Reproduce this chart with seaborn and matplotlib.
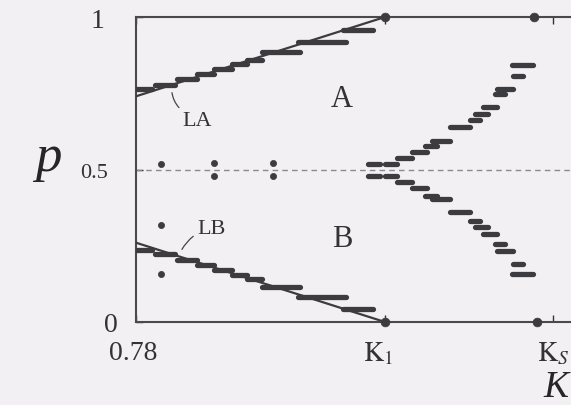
import numpy as np
import pandas as pd
import matplotlib
matplotlib.use("Agg")
import matplotlib.pyplot as plt
import matplotlib.transforms as mtransforms
import seaborn as sns

# Staircase along LA (upper): plateau start K, end K, level p
la_k0 = [0.7800, 0.7815, 0.7833, 0.7849, 0.7863, 0.7877, 0.7889, 0.7901, 0.7930, 0.7966]
la_k1 = [0.7813, 0.7831, 0.7849, 0.7863, 0.7877, 0.7889, 0.7901, 0.7932, 0.7969, 0.7990]
la_p = [0.764, 0.777, 0.797, 0.813, 0.830, 0.846, 0.859, 0.885, 0.918, 0.957]

# Staircase along LB (lower)
lb_k0 = [0.7800, 0.7815, 0.7833, 0.7849, 0.7863, 0.7877, 0.7889, 0.7901, 0.7930, 0.7966]
lb_k1 = [0.7813, 0.7831, 0.7849, 0.7863, 0.7877, 0.7889, 0.7901, 0.7932, 0.7969, 0.7990]
lb_p = [0.236, 0.223, 0.203, 0.187, 0.170, 0.154, 0.141, 0.115, 0.082, 0.043]

# Two branches beyond K1
br_k0 = [0.7986, 0.8000, 0.8010, 0.8022, 0.8032, 0.8038, 0.8052, 0.8068, 0.8072,
         0.8079, 0.8088, 0.8090, 0.8103, 0.8102]
br_k1 = [0.7996, 0.8010, 0.8022, 0.8034, 0.8042, 0.8052, 0.8068, 0.8076, 0.8083,
         0.8090, 0.8096, 0.8103, 0.8111, 0.8119]
up_p = [0.518, 0.518, 0.538, 0.557, 0.577, 0.593, 0.639, 0.662, 0.682,
        0.705, 0.748, 0.764, 0.807, 0.843]
lo_p = [0.479, 0.479, 0.459, 0.439, 0.413, 0.403, 0.361, 0.331, 0.311,
        0.289, 0.256, 0.233, 0.190, 0.157]

# Isolated points
dot_k = [0.7820, 0.7820, 0.7820, 0.7863, 0.7863, 0.7910, 0.7910]
dot_p = [0.518, 0.318, 0.157, 0.521, 0.479, 0.521, 0.479]

# Points sitting on the p = 0 and p = 1 edges
edge_k = [0.8000, 0.8000, 0.8120, 0.8122]
edge_p = [1.0, 0.0, 1.0, 0.0]

# Boundary lines LA and LB
line_k = [0.78, 0.80]
la_line_p = [0.74, 1.0]
lb_line_p = [0.26, 0.0]

k_ticks = [0.78, 0.80, 0.8135]
k_labels = ["0.78", r"$\mathrm{K}_1$", r"$\mathrm{K}_S$"]
p_ticks = [0.0, 0.5, 1.0]
p_labels = ["0", "0.5", "1"]

BG = "#f2f0f3"
INK = "#3c3c40"

sns.set_theme(style="white")
plt.rcParams["font.family"] = ["Liberation Serif", "DejaVu Serif"]
plt.rcParams["mathtext.fontset"] = "stix"
plt.rcParams["text.color"] = "#333333"
plt.rcParams["xtick.color"] = "#333333"
plt.rcParams["ytick.color"] = "#333333"


def segments(k0, k1, p):
    rows = []
    for i, (a, b, v) in enumerate(zip(k0, k1, p)):
        rows.append({"K": a, "p": v, "seg": i})
        rows.append({"K": b, "p": v, "seg": i})
    return pd.DataFrame(rows)


fig = plt.figure(figsize=(5.71, 4.06), dpi=100, facecolor=BG)
ax = fig.add_axes([136 / 571, 1 - 323 / 406, 464 / 571, 305 / 406])
ax.set_facecolor(BG)

# dashed symmetry line
ax.axhline(0.5, color="#8a8a8e", lw=1.0, ls=(0, (4, 3)), zorder=1)

# boundary lines
sns.lineplot(x=line_k, y=la_line_p, ax=ax, color=INK, lw=1.6, zorder=3)
sns.lineplot(x=line_k, y=lb_line_p, ax=ax, color=INK, lw=1.6, zorder=3)

# staircase plateaus
for k0, k1, p in [(la_k0, la_k1, la_p), (lb_k0, lb_k1, lb_p),
                  (br_k0, br_k1, up_p), (br_k0, br_k1, lo_p)]:
    df = segments(k0, k1, p)
    sns.lineplot(data=df, x="K", y="p", units="seg", estimator=None, ax=ax,
                 color=INK, lw=3.8, solid_capstyle="round", zorder=4)

sns.scatterplot(x=dot_k, y=dot_p, ax=ax, color=INK, s=20, edgecolor=INK,
                linewidth=0.5, zorder=5)
sns.scatterplot(x=edge_k, y=edge_p, ax=ax, color=INK, s=40, marker="o",
                edgecolor=INK, linewidth=0.5, zorder=5, clip_on=False)

ax.set_xlim(0.78, 0.78 + 464 * 0.02 / 249)
ax.set_ylim(0, 1)

for side in ["left", "top", "bottom"]:
    ax.spines[side].set_color("#4a4a4e")
    ax.spines[side].set_linewidth(1.5)
ax.spines["right"].set_visible(False)

ax.set_xticks(k_ticks)
ax.set_xticklabels(k_labels, fontsize=20)
ax.set_yticks(p_ticks)
ax.set_yticklabels(p_labels, fontsize=20)
ax.tick_params(axis="x", direction="in", length=5, width=1, top=True, bottom=True, pad=13)
ax.tick_params(axis="y", direction="in", length=5, width=1, left=True, right=False, pad=18)

ylabs = ax.get_yticklabels()
ylabs[1].set_fontsize(16)
ylabs[1].set_transform(ylabs[1].get_transform() + mtransforms.ScaledTranslation(-3 / 100, -1 / 100, fig.dpi_scale_trans))
ylabs[0].set_transform(ylabs[0].get_transform() + mtransforms.ScaledTranslation(7 / 100, 0, fig.dpi_scale_trans))
ylabs[2].set_transform(ylabs[2].get_transform() + mtransforms.ScaledTranslation(-7 / 100, 0, fig.dpi_scale_trans))
xlabs = ax.get_xticklabels()
xlabs[0].set_transform(xlabs[0].get_transform() + mtransforms.ScaledTranslation(-3 / 100, 0, fig.dpi_scale_trans))
xlabs[1].set_transform(xlabs[1].get_transform() + mtransforms.ScaledTranslation(-7 / 100, 0, fig.dpi_scale_trans))

ax.set_ylabel("p", fontsize=38, fontstyle="italic", rotation=0, va="baseline", ha="center")
ax.yaxis.set_label_coords((48 - 136) / 464, (323 - 171) / 305)
ax.set_xlabel("K", fontsize=27, fontstyle="italic", va="bottom", ha="right")
ax.xaxis.set_label_coords((568 - 136) / 464, (323 - 405) / 305)

# region labels
ax.text(0.7965, 0.734, "A", fontsize=22, ha="center", va="center")
ax.text(0.7966, 0.275, "B", fontsize=22, ha="center", va="center")

# LA / LB labels with their leader lines
ax.text(0.7849, 0.662, "LA", fontsize=16, ha="center", va="center")
ax.text(0.7861, 0.308, "LB", fontsize=16, ha="center", va="center")
ax.annotate("", xy=(0.78289, 0.752), xytext=(0.78345, 0.703),
            arrowprops=dict(arrowstyle="-", lw=0.9, color="#444448",
                            shrinkA=0, shrinkB=0, connectionstyle="arc3,rad=-0.15"))
ax.annotate("", xy=(0.78369, 0.238), xytext=(0.78460, 0.281),
            arrowprops=dict(arrowstyle="-", lw=0.9, color="#444448",
                            shrinkA=0, shrinkB=0, connectionstyle="arc3,rad=0.1"))

fig.savefig("out.png", dpi=100, facecolor=BG)
